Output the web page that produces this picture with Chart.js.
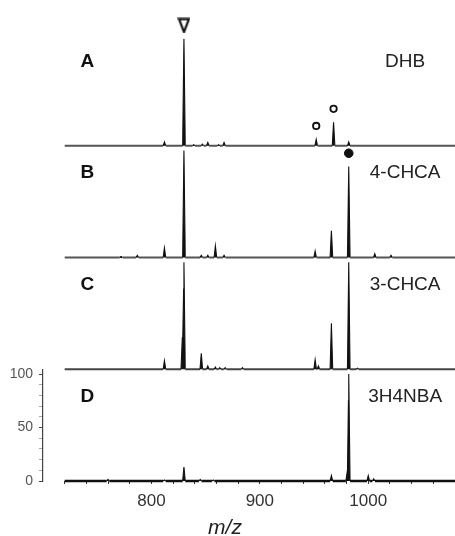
<!DOCTYPE html>
<html>
<head>
<meta charset="utf-8">
<script src="https://cdn.jsdelivr.net/npm/chart.js@4.4.1/dist/chart.umd.min.js"></script>
<style>
html,body{margin:0;padding:0;background:#fff;}
canvas{display:block;}
</style>
</head>
<body>
<canvas id="c" width="455" height="536"></canvas>
<script>
// ---------- data ----------
const panelLetters = ['A', 'B', 'C', 'D'];
const matrixNames = ['DHB', '4-CHCA', '3-CHCA', '3H4NBA'];
const xTitle = 'm/z';

// peak lists: m/z and relative intensity (%)
const mzA  = [812, 830, 839, 847, 852, 862, 867, 952, 968, 982];
const intA = [3.5, 100, 1, 1.5, 3, 1, 3, 6, 22, 3.5];

const mzB  = [772, 787, 812, 830, 846, 852, 859, 867, 951, 966, 982, 1006, 1021];
const intB = [1, 2, 9, 100, 2, 2, 11, 2, 6, 25, 85, 3.5, 2];

const mzC  = [812, 828.5, 830, 846, 852, 859, 863, 868, 884, 951, 954, 966, 982, 990];
const intC = [8, 30, 100, 15, 3, 2, 1.5, 1.5, 1.5, 9, 3, 43, 100, 1];

const mzD  = [760, 812, 830, 845, 857, 966, 980.5, 982, 1000, 1005];
const intD = [1.5, 1, 13, 1.5, 1, 5, 8, 100, 5, 2];

const mzRange = [720, 1080];
const xTickValues = [720, 740, 760, 780, 800, 820, 840, 860, 880, 900, 920, 940, 960, 980, 1000, 1020, 1040, 1060, 1080];
const xTickLabels = [800, 900, 1000];
const yTickValues = [0, 10, 20, 30, 40, 50, 60, 70, 80, 90, 100];
const yTickLabels = [0, 50, 100];

// annotation markers (m/z of marked peaks)
const triangleMarkA = [830];
const openCircleMarkA = [952, 968];
const filledCircleMarkB = [982];

// ---------- build chart ----------
const FONT = "'Liberation Sans', Arial, Helvetica, sans-serif";
const HALF_W = 1.2;
const MARK_GAP = 12.5;

function profile(mz, inten) {
  const xs = new Set([mzRange[0], mzRange[1]]);
  mz.forEach(m => { xs.add(m - HALF_W); xs.add(m); xs.add(m + HALF_W); });
  const sorted = [...xs].sort((a, b) => a - b);
  return sorted.map(x => ({
    x,
    y: Math.max(0, ...mz.map((m, i) => inten[i] * Math.max(0, 1 - Math.abs(x - m) / HALF_W)))
  }));
}
function heightAt(mz, inten, m) { return inten[mz.indexOf(m)]; }

// open, downward-pointing triangle glyph used as a point style
const triGlyph = (() => {
  const c = document.createElement('canvas');
  c.width = 13; c.height = 16;
  const g = c.getContext('2d');
  g.lineWidth = 2.2;
  g.strokeStyle = '#111';
  g.fillStyle = '#fff';
  g.lineJoin = 'miter';
  g.beginPath();
  g.moveTo(1.6, 1.6);
  g.lineTo(11.4, 1.6);
  g.lineTo(6.5, 14.6);
  g.closePath();
  g.fill();
  g.stroke();
  return c;
})();

const panels = [
  {id: 'yA', mz: mzA, inten: intA, base: '#555', bw: 1.8},
  {id: 'yB', mz: mzB, inten: intB, base: '#555', bw: 1.8},
  {id: 'yC', mz: mzC, inten: intC, base: '#444', bw: 1.8},
  {id: 'yD', mz: mzD, inten: intD, base: '#111', bw: 2.6}
];

const markerSets = [
  {
    type: 'line', yAxisID: 'yA', xAxisID: 'x', showLine: false, clip: false,
    data: triangleMarkA.map(m => ({x: m, y: heightAt(mzA, intA, m) + MARK_GAP})),
    pointStyle: triGlyph, pointRadius: 14, pointHoverRadius: 14
  },
  {
    type: 'line', yAxisID: 'yA', xAxisID: 'x', showLine: false, clip: false,
    data: openCircleMarkA.map(m => ({x: m, y: heightAt(mzA, intA, m) + MARK_GAP})),
    pointStyle: 'circle', pointRadius: 3.2, pointBorderWidth: 1.8,
    pointBackgroundColor: '#fff', pointBorderColor: '#111'
  },
  {
    type: 'line', yAxisID: 'yB', xAxisID: 'x', showLine: false, clip: false,
    data: filledCircleMarkB.map(m => ({x: m, y: heightAt(mzB, intB, m) + MARK_GAP})),
    pointStyle: 'circle', pointRadius: 4.3, pointBorderWidth: 1,
    pointBackgroundColor: '#111', pointBorderColor: '#111'
  }
];

const spectraSets = panels.map(p => ({
  type: 'line', yAxisID: p.id, xAxisID: 'x',
  data: profile(p.mz, p.inten),
  borderColor: '#111', borderWidth: 1.1, backgroundColor: '#111',
  fill: 'origin', pointRadius: 0, tension: 0, clip: 6,
  segment: {
    borderColor: ctx => (ctx.p0.parsed.y === 0 && ctx.p1.parsed.y === 0) ? p.base : '#111',
    borderWidth: ctx => (ctx.p0.parsed.y === 0 && ctx.p1.parsed.y === 0) ? p.bw : 1.1
  }
}));

function yScale(id, showTicks) {
  const s = {
    type: 'linear', position: 'left', stack: 'spectra', stackWeight: 1,
    min: 0, max: 104.5,
    afterFit: sc => { sc.width = 43; }
  };
  if (showTicks) {
    s.afterBuildTicks = sc => { sc.ticks = yTickValues.map(v => ({value: v})); };
    s.ticks = {
      display: true, autoSkip: false, padding: 6, color: '#555',
      font: {family: FONT, size: 14},
      callback: v => yTickLabels.includes(v) ? String(v) : ''
    };
    s.grid = {
      display: true, drawOnChartArea: false, drawTicks: true, tickLength: 4,
      tickColor: ctx => (ctx.tick && yTickLabels.includes(ctx.tick.value)) ? '#444' : 'rgba(60,60,60,0.45)',
      tickWidth: 1
    };
    s.border = {display: true, color: '#444', width: 1.2};
  } else {
    s.ticks = {display: false};
    s.grid = {display: false};
    s.border = {display: false};
  }
  return s;
}

const labelPlugin = {
  id: 'panelLabels',
  afterDatasetsDraw(chart) {
    const ctx = chart.ctx;
    const xs = chart.scales.x;
    ctx.save();
    ctx.textAlign = 'center';
    ctx.textBaseline = 'middle';
    panels.forEach((p, i) => {
      const ys = chart.scales[p.id];
      const y = ys.getPixelForValue(79);
      ctx.fillStyle = '#111';
      ctx.font = "bold 19px " + FONT;
      ctx.fillText(panelLetters[i], xs.getPixelForValue(741), y);
      ctx.fillStyle = '#222';
      ctx.font = "19px " + FONT;
      ctx.fillText(matrixNames[i], xs.getPixelForValue(1034), y);
    });
    ctx.fillStyle = '#222';
    ctx.font = "italic 21px " + FONT;
    ctx.fillText(xTitle, 225, 528);
    ctx.restore();
  }
};

// stacked y axes on the left are laid out last-defined at the top
new Chart(document.getElementById('c'), {
  type: 'line',
  data: {datasets: [...markerSets, ...spectraSets]},
  options: {
    responsive: false, animation: false, devicePixelRatio: 1,
    layout: {autoPadding: false, padding: {top: 34, left: 0, right: 0, bottom: 0}},
    plugins: {legend: {display: false}, tooltip: {enabled: false}},
    scales: {
      x: {
        type: 'linear', position: 'bottom', min: 700, max: 1080,
        afterBuildTicks: sc => { sc.ticks = xTickValues.map(v => ({value: v})); },
        afterFit: sc => { sc.height = 55; sc.paddingLeft = 0; sc.paddingRight = 0; },
        ticks: {
          autoSkip: false, maxRotation: 0, padding: 7, color: '#333',
          font: {family: FONT, size: 17},
          callback: v => xTickLabels.includes(v) ? String(v) : ''
        },
        grid: {display: true, drawOnChartArea: false, drawTicks: true, tickLength: 3, color: '#333'},
        border: {display: false}
      },
      yD: yScale('yD', true),
      yC: yScale('yC', false),
      yB: yScale('yB', false),
      yA: yScale('yA', false)
    }
  },
  plugins: [labelPlugin]
});
</script>
</body>
</html>
